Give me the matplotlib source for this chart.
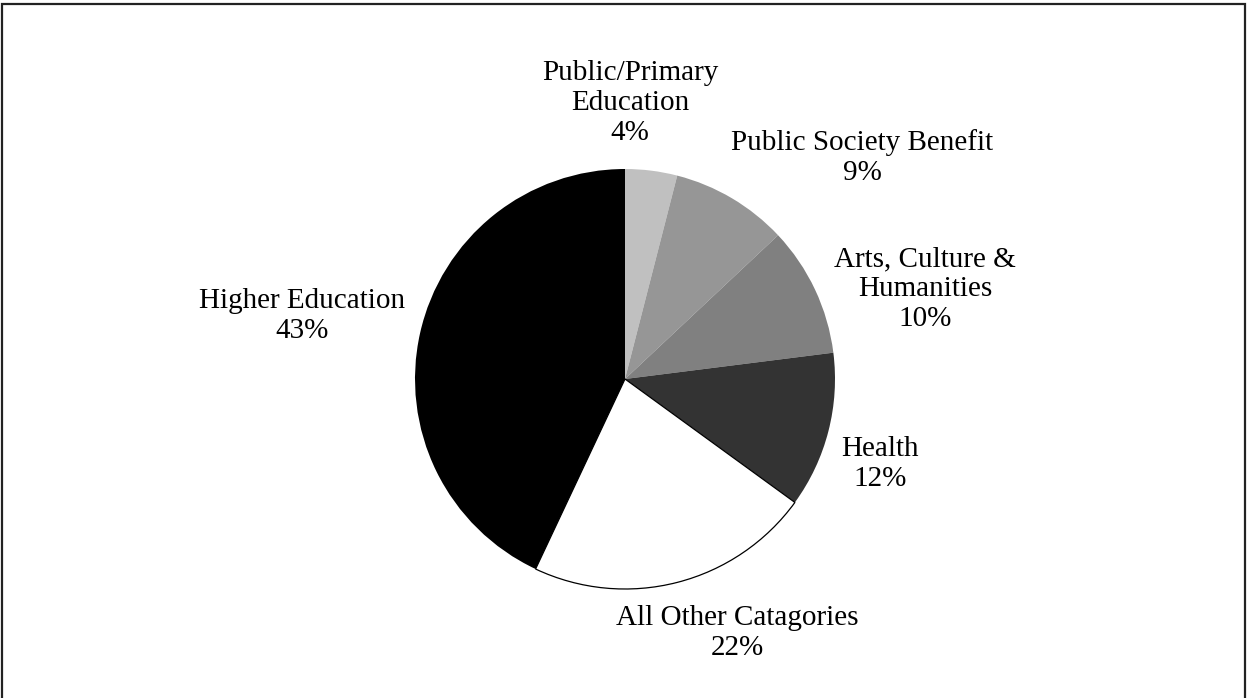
import matplotlib
matplotlib.use("Agg")
import matplotlib.pyplot as plt
from matplotlib.patches import Rectangle

categories = ["Public/Primary\nEducation", "Public Society Benefit", "Arts, Culture &\nHumanities",
              "Health", "All Other Catagories", "Higher Education"]
values = [4, 9, 10, 12, 22, 43]
colors = ["#c0c0c0", "#969696", "#808080", "#333333", "#ffffff", "#000000"]

W, H = 1247, 698
fig = plt.figure(figsize=(W / 100, H / 100), dpi=100)
ax = fig.add_axes([0, 0, 1, 1])

cx, cy, R = 625, H - 379, 210
wedges, _ = ax.pie(values, colors=colors, startangle=90, counterclock=False,
                   center=(cx, cy), radius=R, frame=True,
                   wedgeprops=dict(linewidth=0))
ax.set_xlim(0, W)
ax.set_ylim(0, H)
ax.set_aspect("equal")
ax.axis("off")
wedges[4].set_edgecolor("black")
wedges[4].set_linewidth(0.9)

# label centres (pixel layout)
label_pos = [(630, 103), (862, 158), (925, 289), (880, 464), (737, 633), (302, 316)]
for cat, v, (px, py) in zip(categories, values, label_pos):
    ax.text(px, H - py, f"{cat}\n{v}%", ha="center", va="center",
            fontsize=21, family="Liberation Serif", linespacing=1.2, color="black")

ax.add_patch(Rectangle((2, -10), W - 4, H - 4 + 10, fill=False, edgecolor="#222222",
                       linewidth=1.6, clip_on=False))

fig.savefig("out.png", dpi=100)
